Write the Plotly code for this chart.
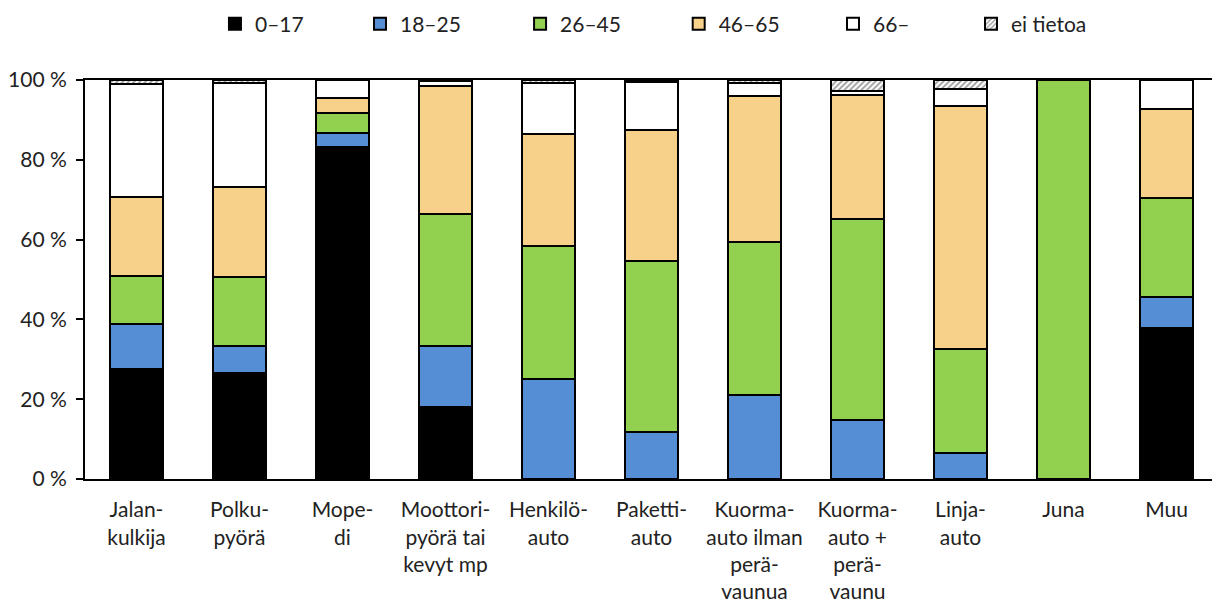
import plotly.graph_objects as go

categories = ["Jalan-<br>kulkija", "Polku-<br>pyörä", "Mope-<br>di", "Moottori-<br>pyörä tai<br>kevyt mp",
              "Henkilö-<br>auto", "Paketti-<br>auto", "Kuorma-<br>auto ilman<br>perä-<br>vaunua",
              "Kuorma-<br>auto +<br>perä-<br>vaunu", "Linja-<br>auto", "Juna", "Muu"]

age_0_17  = [27.5, 26.6, 83.2, 18.0, 0.0, 0.0, 0.0, 0.0, 0.0, 0.0, 37.8]
age_18_25 = [11.3, 6.7, 3.5, 15.3, 25.1, 11.8, 21.1, 14.8, 6.5, 0.0, 7.8]
age_26_45 = [12.1, 17.3, 5.0, 33.1, 33.3, 42.8, 38.3, 50.4, 26.1, 100.0, 24.8]
age_46_65 = [19.8, 22.6, 3.8, 32.1, 28.1, 32.9, 36.6, 31.0, 60.9, 0.0, 22.3]
age_66    = [28.3, 26.0, 4.5, 1.2, 12.8, 12.0, 3.2, 1.0, 4.2, 0.0, 7.3]
unknown   = [1.0, 0.8, 0.0, 0.3, 0.7, 0.5, 0.8, 2.8, 2.3, 0.0, 0.0]

series_names = ["0–17", "18–25", "26–45", "46–65", "66–", "ei tietoa"]
series_values = [age_0_17, age_18_25, age_26_45, age_46_65, age_66, unknown]
colors = ["#000000", "#558ED5", "#92D050", "#F7D08A", "#FFFFFF", "#FFFFFF"]

y_ticks = [0, 20, 40, 60, 80, 100]
y_tick_labels = ["0 %", "20 %", "40 %", "60 %", "80 %", "100 %"]

# horizontal legend entry positions (paper x)
legend_x = [0.1147, 0.2427, 0.3840, 0.5240, 0.6602, 0.7820]

FONT = "Lato, Open Sans, sans-serif"

fig = go.Figure()
legend_layout = {}
for i, (name, vals, col) in enumerate(zip(series_names, series_values, colors)):
    marker = dict(color=col, line=dict(color="#000000", width=2))
    if name == "ei tietoa":
        marker["pattern"] = dict(shape="/", fgcolor="#333333", bgcolor="#FFFFFF", size=4, solidity=0.45)
    lname = "legend" if i == 0 else f"legend{i + 1}"
    fig.add_trace(go.Bar(x=categories, y=vals, name=name, marker=marker, legend=lname))
    legend_layout[lname] = dict(orientation="h", x=legend_x[i], xanchor="left", y=1.14, yanchor="middle",
                                font=dict(size=21, family=FONT, color="#222222"),
                                bgcolor="rgba(0,0,0,0)", borderwidth=0)

fig.update_layout(
    barmode="stack",
    bargap=0.48,
    width=1220, height=605,
    margin=dict(l=77, r=10, t=72, b=134, autoexpand=False),
    paper_bgcolor="white", plot_bgcolor="white",
    font=dict(family=FONT, size=21, color="#222222"),
    showlegend=True,
    **legend_layout,
)
fig.update_xaxes(showline=True, linecolor="#000000", linewidth=2, mirror=True,
                 showgrid=False, tickangle=0, ticks="", ticklabelstandoff=11, automargin=False)
fig.update_yaxes(range=[0, 100], tickvals=y_ticks, ticktext=y_tick_labels, showline=True,
                 linecolor="#000000", linewidth=2, mirror=True, showgrid=False,
                 ticks="outside", ticklen=7, tickcolor="#000000", tickwidth=1.5,
                 ticklabelstandoff=5, automargin=False)

fig.write_html("out.html")
